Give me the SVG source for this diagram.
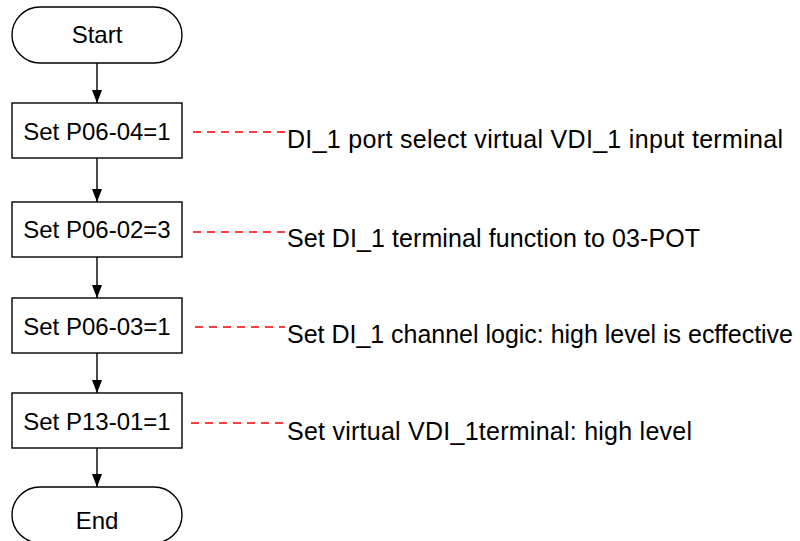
<svg xmlns="http://www.w3.org/2000/svg" width="800" height="541" viewBox="0 0 800 541">
<defs>
<style>
.shape{fill:#fff;stroke:#000;stroke-width:1.4}
.t{font-family:"Liberation Sans",Arial,sans-serif;font-size:24px;fill:#000}
.n{font-size:25px}
.c{text-anchor:middle}
.edge{stroke:#000;stroke-width:1.4;fill:none}
.dash{stroke:#ff0000;stroke-width:1.5;stroke-dasharray:8 6;fill:none}
</style>
<marker id="arr" markerUnits="userSpaceOnUse" markerWidth="14" markerHeight="12" refX="13" refY="5" orient="auto" viewBox="0 0 14 12">
<path d="M0,0 L13,5 L0,10 Z" fill="#000"/>
</marker>
</defs>
<g id="connectors">
<line class="edge" x1="97" y1="63" x2="97" y2="103" marker-end="url(#arr)"/>
<line class="edge" x1="97" y1="158" x2="97" y2="202" marker-end="url(#arr)"/>
<line class="edge" x1="97" y1="257" x2="97" y2="298" marker-end="url(#arr)"/>
<line class="edge" x1="97" y1="353" x2="97" y2="393" marker-end="url(#arr)"/>
<line class="edge" x1="97" y1="448" x2="97" y2="487" marker-end="url(#arr)"/>
<line class="dash" x1="193" y1="132" x2="285" y2="132"/>
<line class="dash" x1="193" y1="232" x2="285" y2="232"/>
<line class="dash" x1="195" y1="327" x2="285" y2="327"/>
<line class="dash" x1="191" y1="423" x2="285" y2="423"/>
</g>
<g id="start">
<rect class="shape" x="12" y="7" width="170" height="56" rx="28" ry="28"/>
<text class="t c" x="97" y="43">Start</text>
</g>
<g id="step1">
<rect class="shape" x="12" y="103" width="170" height="55"/>
<text class="t c" x="97" y="140">Set P06-04=1</text>
</g>
<g id="step2">
<rect class="shape" x="12" y="202" width="170" height="55"/>
<text class="t c" x="97" y="238">Set P06-02=3</text>
</g>
<g id="step3">
<rect class="shape" x="12" y="298" width="170" height="55"/>
<text class="t c" x="97" y="335">Set P06-03=1</text>
</g>
<g id="step4">
<rect class="shape" x="12" y="393" width="170" height="55"/>
<text class="t c" x="97" y="430">Set P13-01=1</text>
</g>
<g id="end">
<rect class="shape" x="12" y="487" width="170" height="56" rx="28" ry="28"/>
<text class="t c" x="97" y="529">End</text>
</g>
<g id="note1"><text class="t n" x="287" y="148" textLength="496" lengthAdjust="spacing">DI_1 port select virtual VDI_1 input terminal</text></g>
<g id="note2"><text class="t n" x="287" y="247" textLength="413" lengthAdjust="spacing">Set DI_1 terminal function to 03-POT</text></g>
<g id="note3"><text class="t n" x="287" y="343" textLength="506" lengthAdjust="spacing">Set DI_1 channel logic: high level is ecffective</text></g>
<g id="note4"><text class="t n" x="287" y="440" textLength="405" lengthAdjust="spacing">Set virtual VDI_1terminal: high level</text></g>
</svg>
